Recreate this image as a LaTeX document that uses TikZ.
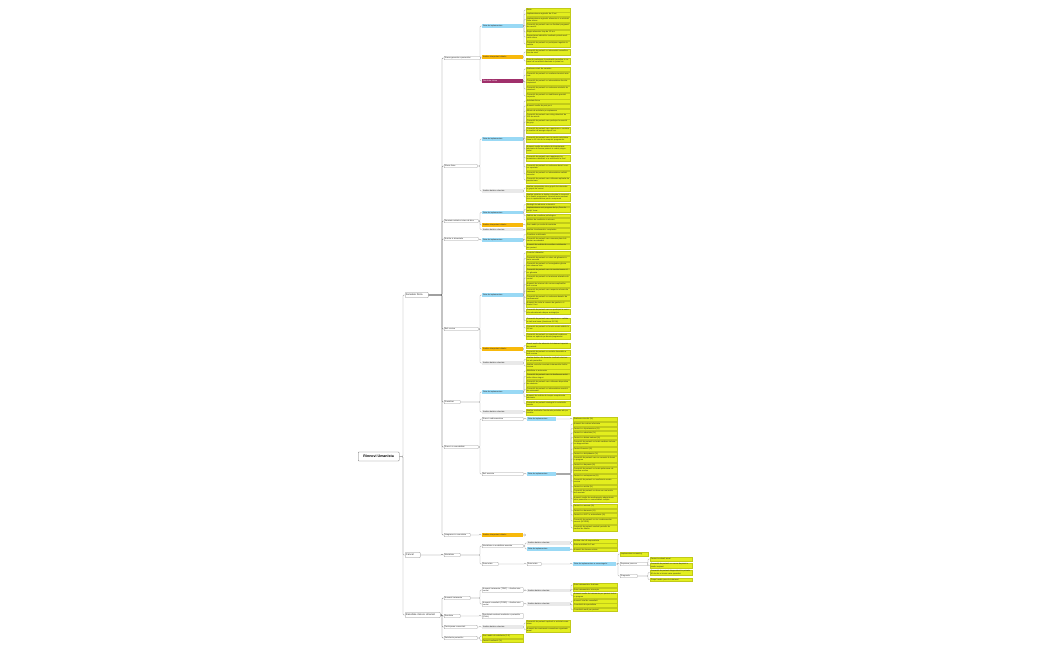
\documentclass[tikz,border=0pt]{standalone}
\usepackage{fontspec}
\setmainfont{Liberation Sans}
\usetikzlibrary{calc,backgrounds}
\definecolor{lf}{HTML}{E3EE1E}
\definecolor{bl}{HTML}{99D9F5}
\definecolor{or}{HTML}{F8B90B}
\definecolor{pu}{HTML}{A0306B}
\definecolor{gr}{HTML}{E9E9E9}
\colorlet{lkc}{black!45}
\newcommand\ch[6]{\node[#2] (#1) at (#3,#4) {#6};
  \begin{pgfonlayer}{background}\draw[lnk] (#5.east) -- ($(#5.east -| #1.west)+(-2,0)$) |- (#1.west);\end{pgfonlayer}}
\begin{document}
\begin{tikzpicture}[x=1pt,y=-1pt,
  base/.style={anchor=west, inner xsep=0.8pt, inner ysep=0.75pt, font=\fontsize{1.95}{2.3}\selectfont, align=left, text=black!85, minimum height=3.6pt},
  leaf/.style={base, fill=lf, draw=lf!85!black, line width=0.12pt, text width=#1},
  leaf/.default=42.4pt,
  box/.style={base, fill=white, draw=black!40, line width=0.25pt, rounded corners=0.5pt, text width=#1},
  bar/.style={base, fill=#1, text width=39.4pt},
  bar4/.style={base, fill=#1, text width=41.4pt},
  l1box/.style={base, font=\fontsize{2.5}{2.8}\selectfont, fill=white, draw=black!50, line width=0.3pt, rounded corners=0.6pt, text width=#1, minimum height=5pt},
  rootbox/.style={anchor=west, font=\fontsize{3.6}{4}\selectfont\bfseries, fill=white, draw=black!55, line width=0.35pt, rounded corners=0.8pt, minimum width=41pt, minimum height=9pt, inner sep=1pt},
  lnk/.style={draw=lkc, line width=0.3pt, rounded corners=0.8pt}]
\begin{pgfonlayer}{background}
\fill[white] (0,0) rectangle (1050,650);
\end{pgfonlayer}
\useasboundingbox (0,0) rectangle (1050,650);
\node[rootbox] (R) at (358,456.5) {Rinnovi Umanista};
\colorlet{lkc}{black!40}
\ch{A}{l1box=21.4pt}{405}{295}{R}{Sanatate fizica}
\ch{B}{l1box=13.4pt}{405}{555}{R}{Cancel}
\ch{C}{l1box=33.4pt}{405}{615}{R}{Rezultate minore Umanist}
\colorlet{lkc}{black!55}
% ---------------- level 2
\ch{A1}{box=34.4pt}{444}{58}{A}{Starea generala a pacientului}
\ch{A2}{box=31.4pt}{444}{166}{A}{Efecte fizice}
\ch{A3}{box=32.4pt}{444}{221}{A}{Sanatate mintala si stare de bine}
\ch{A4}{box=32.4pt}{444}{239}{A}{Nutritie si alimentatie}
\ch{A5}{box=32.4pt}{444}{329}{A}{Boli cronice}
\ch{A6}{box=14.4pt}{444}{402}{A}{Dizabilitati}
\ch{A7}{box=32.4pt}{444}{447}{A}{Riscuri si comorbiditati}
\ch{A8}{box=24.4pt}{444}{535}{A}{Integrarea in comunitate}
\ch{B1}{box=14.4pt}{444}{555}{B}{Mortalitate}
\ch{C1}{box=24.4pt}{444}{598}{C}{Numarul tratamente}
\ch{C2}{box=14.4pt}{444}{616}{C}{Rezultate}
\ch{C3}{box=31.4pt}{444}{627}{C}{Participarea comunitatii}
\ch{C4}{box=31.4pt}{444}{638}{C}{Satisfactia pacientilor}
\colorlet{lkc}{black!35}
% A1 children
\ch{A1b}{bar={bl}}{482}{26}{A1}{Rata de implementare}
\ch{A1o}{bar={or}}{482}{57}{A1}{Analiza interpretarii datelor}
\ch{A1p}{bar={pu},text=white}{482}{81}{A1}{Rezultate clinice}
\ch{a11}{leaf}{526}{10}{A1b}{Dieta}
\ch{a12}{leaf}{526}{14}{A1b}{Implementarea regimului de 6 luni}
\ch{a13}{leaf}{526}{19.5}{A1b}{Implementarea regimului alimentar si a activitatii fizice zilnice}
\ch{a14}{leaf}{526}{26}{A1b}{Procentul de pacienti care au finalizat programul de exercitii}
\ch{a15}{leaf}{526}{32}{A1b}{Regim alimentar timp de 12 luni}
\ch{a16}{leaf}{526}{37}{A1b}{Respectarea indicatiilor medicale privind medicatia zilnica}
\ch{a17}{leaf}{526}{44}{A1b}{Procentul de pacienti cu participare regulata la sedinte}
\ch{a18}{leaf}{526}{52}{A1o}{Procentul de pacienti cu imbunatatiri semnificative ale starii}
\ch{a19}{leaf}{526}{61}{A1o}{Rata de participare la evaluarile periodice si numarul de consultatii efectuate in primul an}
\ch{a1a}{leaf}{526}{69}{A1p}{Evaluarea starii de sanatate}
\ch{a1b}{leaf}{526}{75}{A1p}{Procentul de pacienti cu scaderea tensiunii arteriale}
\ch{a1c}{leaf}{526}{82}{A1p}{Procentul de pacienti cu imbunatatirea functiei respiratorii}
\ch{a1d}{leaf}{526}{89}{A1p}{Procentul de pacienti cu reducerea nivelului de colesterol}
\ch{a1e}{leaf}{526}{96}{A1p}{Procentul de pacienti cu stabilizarea greutatii corporale}
% A2 children
\ch{A2b}{bar={bl}}{482}{139}{A2}{Rata de implementare}
\ch{A2g}{bar={gr}}{482}{191}{A2}{Analiza datelor colectate}
\ch{a21}{leaf}{526}{101}{A2b}{Activitate fizica}
\ch{a22}{leaf}{526}{106}{A2b}{Numarul mediu de pasi pe zi}
\ch{a23}{leaf}{526}{111}{A2b}{Minute de activitate pe saptamana}
\ch{a24}{leaf}{526}{116}{A2b}{Procentul de pacienti care ating obiectivul de 150 de minute}
\ch{a25}{leaf}{526}{122}{A2b}{Procentul de pacienti care participa la exercitii de grup}
\ch{a26}{leaf}{526}{130}{A2b}{Procentul de pacienti care raporteaza o crestere a nivelului de energie dupa 6 luni}
\ch{a27}{leaf}{526}{139}{A2b}{Procentul de pacienti care isi mentin activitatea fizica la 12 luni de la inceputul programului}
\ch{a28}{leaf}{526}{149}{A2b}{Numarul mediu de sedinte de kinetoterapie efectuate de fiecare pacient in cadrul programului}
\ch{a29}{leaf}{526}{158}{A2b}{Procentul de pacienti care raporteaza imbunatatirea mobilitatii si a echilibrului la final}
\ch{a2a}{leaf}{526}{167}{A2b}{Procentul de pacienti cu reducerea durerii cronice raportate}
\ch{a2b}{leaf}{526}{174}{A2b}{Procentul de pacienti cu imbunatatirea calitatii somnului}
\ch{a2c}{leaf}{526}{180}{A2b}{Procentul de pacienti care utilizeaza aplicatia de monitorizare}
\ch{a2d}{leaf}{526}{188}{A2g}{Analiza comparativa intre grupul de interventie si grupul de control}
\ch{a2e}{leaf}{526}{197}{A2g}{Analiza statistica a datelor colectate la inceputul si la finalul programului, folosind teste parametrice si neparametrice pentru comparare}
% A3 children
\ch{A3b}{bar={bl}}{482}{212.5}{A3}{Rata de implementare}
\ch{A3o}{bar={or}}{482}{225}{A3}{Analiza interpretarii datelor}
\ch{A3g}{bar={gr}}{482}{229.5}{A3}{Analiza datelor colectate}
\ch{a31}{leaf}{526}{204.5}{A3b}{Strategii de reducere a stresului}
\ch{a32}{leaf}{526}{209.5}{A3b}{Implementarea unui program de tip „Cerc de sprijin” lunar}
\ch{a33}{leaf}{526}{215.5}{A3b}{Sedinte de consiliere psihologica}
\ch{a34}{leaf}{526}{220}{A3b}{Ateliere de meditatie si relaxare}
\ch{a35}{leaf}{526}{225}{A3o}{Scor mediu pe scala de anxietate}
\ch{a36}{leaf}{526}{230}{A3g}{Analiza chestionarelor completate}
% A4 children
\ch{A4b}{bar={bl}}{482}{240}{A4}{Rata de implementare}
\ch{a41}{leaf}{526}{234.5}{A4b}{Consiliere nutritionala}
\ch{a42}{leaf}{526}{240}{A4b}{Procentul de pacienti care urmeaza planul alimentar recomandat}
\ch{a43}{leaf}{526}{246.5}{A4b}{Numarul de sedinte de consiliere nutritionala per pacient}
% A5 children
\ch{A5b}{bar={bl}}{482}{295}{A5}{Rata de implementare}
\ch{A5o}{bar={or}}{482}{349}{A5}{Analiza interpretarii datelor}
\ch{A5g}{bar={gr}}{482}{363}{A5}{Analiza datelor colectate}
\ch{a51}{leaf}{526}{253}{A5b}{Controlul diabetului}
\ch{a52}{leaf}{526}{258.5}{A5b}{Procentul de pacienti cu valori ale glicemiei in limite normale}
\ch{a53}{leaf}{526}{265}{A5b}{Procentul de pacienti cu hemoglobina glicata sub valoarea tinta}
\ch{a54}{leaf}{526}{271.5}{A5b}{Procentul de pacienti care isi monitorizeaza zilnic glicemia}
\ch{a55}{leaf}{526}{278}{A5b}{Procentul de pacienti cu tensiunea arteriala sub control}
\ch{a56}{leaf}{526}{284.5}{A5b}{Numarul de internari din cauza complicatiilor bolii cronice}
\ch{a57}{leaf}{526}{291}{A5b}{Procentul de pacienti care respecta schema de tratament}
\ch{a58}{leaf}{526}{297.5}{A5b}{Procentul de pacienti cu reducerea dozelor de medicamente}
\ch{a59}{leaf}{526}{304}{A5b}{Numarul de vizite la camera de garda in ultimele 6 luni}
\ch{a5a}{leaf}{526}{311.5}{A5b}{Procentul de pacienti care au participat la sesiunile educationale despre autoingrijire}
\ch{a5b}{leaf}{526}{320.5}{A5b}{Procentul de pacienti care raporteaza o calitate a vietii mai buna (chestionar SF-36)}
\ch{a5c}{leaf}{526}{328}{A5b}{Procentul de pacienti cu functia renala stabila la 12 luni}
\ch{a5d}{leaf}{526}{336}{A5b}{Procentul de pacienti cu complicatii cardiovasculare noi aparute pe durata programului}
\ch{a5e}{leaf}{526}{345.5}{A5o}{Scorul mediu de aderenta la tratament raportat de pacienti}
\ch{a5f}{leaf}{526}{352.5}{A5o}{Procentul de pacienti cu evolutie favorabila a bolii cronice}
\ch{a5g}{leaf}{526}{359.5}{A5g}{Analiza datelor din dosarele medicale electronice ale pacientilor}
\ch{a5h}{leaf}{526}{366}{A5g}{Analiza costurilor asociate tratamentului bolilor cronice}
% A6 children
\ch{A6b}{bar={bl}}{482}{392}{A6}{Rata de implementare}
\ch{A6g}{bar={gr}}{482}{412}{A6}{Analiza datelor colectate}
\ch{a61}{leaf}{526}{371}{A6b}{Mobilitate si autonomie}
\ch{a62}{leaf}{526}{376.5}{A6b}{Procentul de pacienti care isi desfasoara activitatile zilnice singuri}
\ch{a63}{leaf}{526}{383}{A6b}{Procentul de pacienti care utilizeaza dispozitive de asistenta}
\ch{a64}{leaf}{526}{389.5}{A6b}{Procentul de pacienti cu imbunatatirea scorului de autonomie}
\ch{a65}{leaf}{526}{396.5}{A6b}{Numarul de sedinte de terapie ocupationala efectuate}
\ch{a66}{leaf}{526}{403.5}{A6b}{Procentul de pacienti reintegrati in activitatile sociale}
\ch{a67}{leaf}{526}{412}{A6g}{Analiza evaluarilor functionale periodice ale pacientilor}
% A7 children
\ch{A7a}{box=39.4pt}{482}{419}{A7}{Riscuri cardiovasculare}
\ch{A7b}{box=39.4pt}{482}{474}{A7}{Boli asociate}
\ch{A7ab}{bar4={bl},text width=27.4pt}{527}{419}{A7a}{Rata de implementare}
\ch{A7bb}{bar4={bl},text width=27.4pt}{527}{474}{A7b}{Rata de implementare}
\ch{a70}{leaf}{573}{419}{A7ab}{Evaluarea riscului (\%)}
\ch{a71}{leaf}{573}{424}{A7bb}{Numarul de evaluari efectuate}
\ch{a72}{leaf}{573}{428.5}{A7bb}{Pacienti cu hipertensiune (\%)}
\ch{a73}{leaf}{573}{433}{A7bb}{Pacienti cu obezitate (\%)}
\ch{a74}{leaf}{573}{437.5}{A7bb}{Pacienti cu diabet zaharat (\%)}
\ch{a75}{leaf}{573}{443}{A7bb}{Procentul de pacienti cu boala cardiaca ischemica diagnosticata}
\ch{a76}{leaf}{573}{449}{A7bb}{Pacienti fumatori (\%)}
\ch{a77}{leaf}{573}{453.5}{A7bb}{Pacienti cu dislipidemie (\%)}
\ch{a78}{leaf}{573}{459}{A7bb}{Procentul de pacienti care au renuntat la fumat in program}
\ch{a79}{leaf}{573}{464.5}{A7bb}{Pacienti cu depresie (\%)}
\ch{a7a}{leaf}{573}{470}{A7bb}{Procentul de pacienti cu boala pulmonara obstructiva cronica}
\ch{a7b}{leaf}{573}{476}{A7bb}{Pacienti cu osteoporoza (\%)}
\ch{a7c}{leaf}{573}{481}{A7bb}{Procentul de pacienti cu insuficienta renala cronica}
\ch{a7d}{leaf}{573}{486.5}{A7bb}{Pacienti cu artrita (\%)}
\ch{a7e}{leaf}{573}{492}{A7bb}{Procentul de pacienti cu doua sau mai multe boli asociate}
\ch{a7f}{leaf}{573}{499}{A7bb}{Numarul mediu de medicamente administrate zilnic pacientilor cu comorbiditati multiple}
\ch{a7g}{leaf}{573}{506}{A7bb}{Pacienti cu anemie (\%)}
\ch{a7h}{leaf}{573}{510.5}{A7bb}{Pacienti cu dementa (\%)}
\ch{a7i}{leaf}{573}{515}{A7bb}{Pacienti cu AVC in antecedente (\%)}
\ch{a7j}{leaf}{573}{521}{A7bb}{Procentul de pacienti cu risc cardiovascular crescut (SCORE)}
\ch{a7k}{leaf}{573}{528}{A7bb}{Procentul de pacienti evaluati periodic de medicul de familie}
% A8 children
\ch{A8o}{bar={or}}{482}{535}{A8}{Analiza interpretarii datelor}
\node[circle, draw=black!45, fill=white, line width=0.25pt, inner sep=0pt, minimum size=2.2pt, anchor=west] (A8c) at (A8o.east) {};
% B children
\ch{B1a}{box=39.4pt}{482}{546}{B1}{Mortalitate si morbiditate asociata}
\ch{B1b}{box=14.4pt}{482}{564}{B1}{Rata totala}
\ch{B1ag}{bar4={gr}}{527}{543}{B1a}{Analiza datelor colectate}
\ch{B1ab}{bar4={bl}}{527}{549}{B1a}{Rata de implementare}
\ch{b11}{leaf}{573}{541}{B1ag}{Analiza ratei de supravietuire}
\ch{b12}{leaf}{573}{545}{B1ag}{Rata mortalitatii la 5 ani}
\ch{b13}{leaf}{573}{549.5}{B1ab}{Numarul de decese evitate}
\ch{B1bw}{box=12.4pt}{527}{564}{B1b}{Rata totala}
\ch{B1bb}{bar4={bl}}{573}{564}{B1bw}{Rata de implementare a screeningului}
\ch{d1}{leaf=26pt}{620}{554}{B1bb}{Implementare screening}
\ch{D2}{box=26pt}{620}{564}{B1bb}{Depistare precoce}
\ch{D3}{box=15.4pt}{620}{576}{B1bb}{Diagnostic}
\ch{d21}{leaf=40.4pt}{650}{559}{D2}{Pacienti evaluati anual}
\ch{d22}{leaf=40.4pt}{650}{565.5}{D2}{Procentul de pacienti cu cancer depistat in stadiu incipient}
\ch{d31}{leaf=40.4pt}{650}{572.5}{D3}{Procentul de pacienti diagnosticati in primele 30 de zile si trimisi catre specialist}
\ch{d32}{leaf=40.4pt}{650}{579.5}{D3}{Timpul mediu pana la tratament}
% C children
\ch{C1a}{box=39.4pt}{482}{590}{C1}{Numarul tratamente (TRAT) -- Analiza interventiei}
\ch{C1b}{box=39.4pt}{482}{604}{C1}{Numarul consultatii (CONS) -- Analiza interventiei}
\ch{C1ag}{bar4={gr}}{527}{590.5}{C1a}{Analiza datelor colectate}
\ch{C1bg}{bar4={gr}}{527}{604}{C1b}{Analiza datelor colectate}
\ch{c11}{leaf}{573}{585}{C1ag}{Rata tratamentelor finalizate}
\ch{c12}{leaf}{573}{589.5}{C1ag}{Rata tratamentelor intrerupte}
\ch{c13}{leaf}{573}{595.5}{C1ag}{Numarul mediu de tratamente per pacient inclus in program}
\ch{c14}{leaf}{573}{601}{C1bg}{Numarul total de consultatii}
\ch{c15}{leaf}{573}{605}{C1bg}{Consultatii de specialitate}
\ch{c16}{leaf}{573}{609.5}{C1bg}{Consultatii medii per pacient}
\ch{C2a}{box=39.4pt}{482}{616}{C2}{Rezultatele evaluarii medicale a pacientilor (EVAL)}
\ch{C3g}{bar={gr}}{482}{627}{C3}{Analiza datelor colectate}
\ch{c31}{leaf}{526}{623}{C3g}{Procentul de pacienti implicati in activitati comunitare}
\ch{c32}{leaf}{526}{629.5}{C3g}{Numarul de evenimente comunitare organizate anual}
\ch{c41}{leaf=39.4pt}{482}{636}{C4}{Scor mediu de satisfactie (1-5)}
\ch{c42}{leaf=39.4pt}{482}{640.5}{C4}{Pacienti multumiti (\%)}
\end{tikzpicture}
\end{document}
